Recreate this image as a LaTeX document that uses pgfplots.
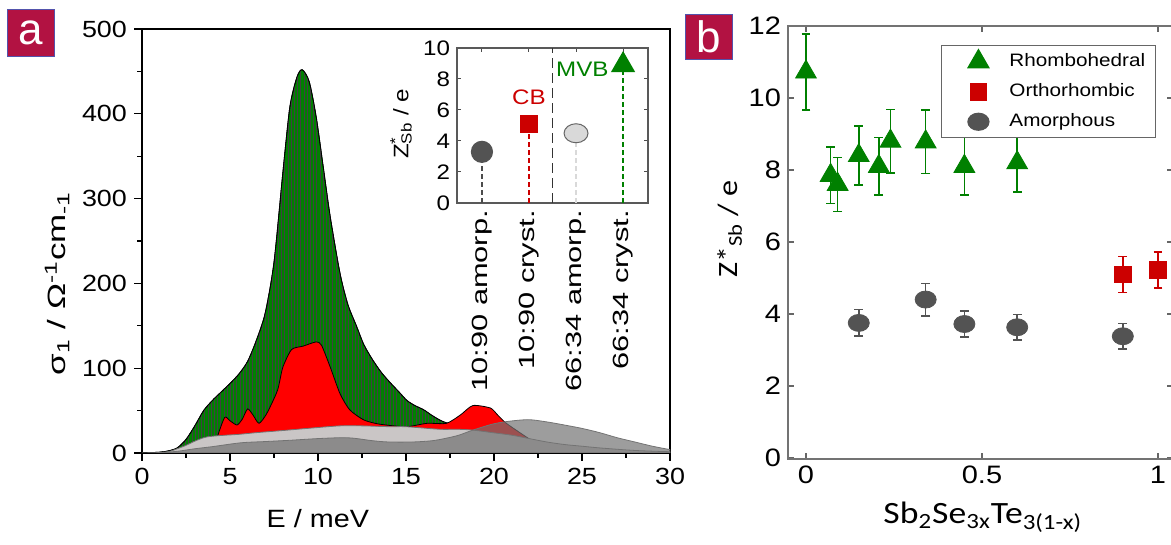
\documentclass[border=0pt]{standalone}
\usepackage{fontspec}
\setmainfont{Liberation Sans}[FakeStretch=1.15]
\newfontfamily\rotfont{Liberation Sans}[FakeStretch=1.4]
\newfontfamily\calibri{Carlito}[FakeStretch=1.15]
\newfontfamily\plainsans{Liberation Sans}
\usepackage{pgfplots}
\pgfplotsset{compat=1.18}
\usetikzlibrary{patterns.meta}
\definecolor{cgreen}{RGB}{0,128,0}
\definecolor{cred}{RGB}{255,0,0}
\definecolor{mred}{RGB}{204,0,0}
\definecolor{lgray}{RGB}{202,198,198}
\definecolor{mgray}{RGB}{83,83,83}
\definecolor{crimson}{RGB}{178,18,66}

\begin{document}
\begin{tikzpicture}
\useasboundingbox (0,0) rectangle (585.5pt,272.5pt);

% ---- panel a: optical conductivity
\begin{axis}[
    at={(71pt,46pt)}, anchor=south west, scale only axis,
    width=264pt, height=212pt,
    xmin=0, xmax=30, ymin=0, ymax=500,
    xtick={0,5,...,30}, ytick={0,100,...,500},
    minor x tick num=1, minor y tick num=1,
    tick pos=left, tick align=outside,
    major tick length=4pt, minor tick length=2.5pt,
    tick style={black, line width=0.6pt},
    axis line style={line width=0.7pt},
    tick label style={font=\fontsize{11.7}{13}\selectfont},
    /pgf/number format/assume math mode=true,
    xlabel={E / meV},
    ylabel={σ\textsubscript{1} / Ω\textsuperscript{-1}cm\textsubscript{-1}},
    xlabel style={font=\fontsize{12.5}{14}\selectfont,
      at={(axis description cs:0.333,-0.155)}, anchor=center},
    ylabel style={font=\rotfont\fontsize{12.5}{14}\selectfont,
      at={(axis description cs:-0.161,0.40)}, anchor=center},
]
\addplot[smooth, tension=0.45, draw=black, line width=0.4pt, fill=cgreen,
  postaction={pattern={Lines[angle=90,distance=1.6pt,line width=0.4pt]}, pattern color=black!75}]
  coordinates {(0,0) (1,1) (1.5,2.5) (2,6) (2.5,16) (3,32) (3.5,50) (4,62) (4.5,72)
   (5,82) (5.5,93) (6,108) (6.5,133) (7,165) (7.5,225) (8,330) (8.4,408) (8.8,443)
   (9.1,452) (9.5,438) (9.9,396) (10.3,337) (10.7,278) (11.25,212) (11.7,175)
   (12.2,149) (12.6,128) (13.1,110) (13.6,95) (14.1,83) (14.6,72) (15.05,62)
   (15.5,56) (16,51) (16.5,44) (17,38) (17.5,34) (18,30) (19,26) (20,22) (21,17)
   (22,12) (23,8) (25,4) (27,2) (30,0)} \closedcycle;
\addplot[smooth, tension=0.4, draw=black, line width=0.4pt, fill=cred]
  coordinates {(4.1,0) (4.3,20) (4.7,42) (5.0,38) (5.4,33) (5.7,40) (6.0,52) (6.3,45)
   (6.65,35) (7.1,47) (7.7,74) (8.0,101) (8.5,122) (9.15,126) (9.9,131) (10.2,127)
   (10.7,101) (11.25,70) (11.8,51) (12.6,39) (13.5,34) (15,31) (16.2,35) (17.3,35)
   (18.1,45) (18.8,56) (19.8,53) (20.2,45) (20.7,35) (21.9,18) (22.5,10) (23.5,3)
   (25,0)} \closedcycle;
\addplot[smooth, tension=0.5, draw=black!55, line width=0.4pt, fill=lgray]
  coordinates {(0.8,0) (1.5,1.5) (2,5) (2.5,9) (2.9,13) (3.3,16.5) (3.7,19) (4.4,20.5)
   (5.5,22) (6.5,24) (8,26.5) (9.4,29) (11.25,32) (12.5,32) (14.1,31) (15,31)
   (16.9,28) (17.9,28) (18.8,27) (19.9,24) (21,21) (22,17) (23,13) (24,10) (25,8)
   (26,6) (28,3) (30,1.5)} \closedcycle;
\addplot[smooth, tension=0.5, draw=black!55, line width=0.4pt, fill=black!55, fill opacity=0.7]
  coordinates {(0,0) (1,0.5) (2,2) (3,5) (4,7.5) (5.6,12) (7,13.5) (8.4,15) (10,17)
   (11.25,18) (12,17.5) (13.1,14.5) (14,13) (15.4,13) (16.5,14.5) (17.3,17.5) (18,21)
   (18.8,27) (19.9,34) (20.7,37) (21.6,39) (22.2,39) (23.2,36) (24,33) (25,29)
   (26,24) (27,18) (28,13) (29,8) (30,4)} \closedcycle;
\end{axis}

% ---- inset
\begin{axis}[
    at={(228.5pt,171pt)}, anchor=south west, scale only axis,
    width=95.5pt, height=77.5pt,
    xmin=0.47, xmax=4.53, ymin=0, ymax=10,
    xtick={1,2,3,4},
    xticklabels={10:90 amorp., 10:90 cryst., 66:34 amorp., 66:34 cryst.},
    ytick={0,2,...,10},
    tick align=inside, major tick length=2pt,
    tick style={black!70, line width=0.5pt},
    axis line style={black!65, line width=0.6pt},
    tick label style={font=\fontsize{10.5}{12}\selectfont},
    x tick label style={rotate=90, anchor=east, font=\rotfont\fontsize{11}{12}\selectfont},
    /pgf/number format/assume math mode=true,
    ylabel={Z\rlap{\textsuperscript{*}}\textsubscript{Sb} / e},
    ylabel style={font=\fontsize{10.5}{12}\selectfont,
      at={(axis description cs:-0.293,0.51)}, anchor=center},
    clip=false,
]
\addplot[black!80, dash pattern=on 5pt off 2.5pt, line width=0.6pt]
  coordinates {(2.5,0) (2.5,10)};
\addplot[ycomb, draw=black!70, dash pattern=on 2.5pt off 1.5pt, line width=0.6pt,
  mark=*, mark size=5.25pt, mark options={solid, fill=mgray, draw=mgray}]
  coordinates {(1,3.3)};
\addplot[ycomb, draw=mred, dash pattern=on 2.5pt off 1.5pt, line width=0.7pt,
  mark=square*, mark size=4.3pt, mark options={solid, fill=mred, draw=mred}]
  coordinates {(2,5.1)};
\addplot[ycomb, draw=black!15, dash pattern=on 2.5pt off 1.5pt, line width=0.6pt,
  mark=*, mark size=4.75pt, mark options={solid, xscale=1.26, fill=black!15, draw=black!60, line width=0.5pt}]
  coordinates {(3,4.5)};
\addplot[ycomb, draw=cgreen, dash pattern=on 2.5pt off 1.5pt, line width=0.7pt,
  mark=triangle*, mark size=6.3pt, mark options={solid, fill=cgreen, draw=cgreen}]
  coordinates {(4,8.9)};
\node[text=mred, font=\fontsize{10.5}{12}\selectfont] at (axis cs:2,6.84) {CB};
\node[text=cgreen, anchor=east, inner sep=0.5pt, font=\fontsize{10.5}{12}\selectfont] at (axis cs:3.72,8.6) {MVB};
\end{axis}

% ---- panel b: Born effective charge
\begin{axis}[
    at={(394pt,43pt)}, anchor=south west, scale only axis,
    width=192.5pt, height=216.5pt,
    xmin=-0.051, xmax=1.0426, ymin=-0.03, ymax=12,
    xtick={0,0.5,1}, xticklabels={0,0.5,1}, ytick={0,2,...,12},
    tick align=inside, major tick length=3pt,
    tick style={black!60, line width=0.6pt},
    axis line style={black!55, line width=0.7pt},
    tick label style={font=\fontsize{12.6}{14}\selectfont},
    /pgf/number format/assume math mode=true,
    xlabel={\calibri Sb\textsubscript{2}Se\textsubscript{3x}Te\textsubscript{3(1-x)}},
    ylabel={\calibri Z*\textsubscript{Sb} / e},
    xlabel style={font=\fontsize{15.5}{17}\selectfont,
      at={(axis description cs:0.506,-0.135)}, anchor=center},
    ylabel style={font=\fontsize{14}{16}\selectfont,
      at={(axis description cs:-0.151,0.531)}, anchor=center},
    legend style={at={(0.397,0.956)}, anchor=north west, draw=black!60,
      line width=0.6pt, inner xsep=3pt, inner ysep=2pt,
      font=\fontsize{9}{10.5}\selectfont, row sep=3pt},
    legend cell align=left,
    legend image code/.code={\path[draw=none] (0pt,0pt) -- (29pt,0pt);
      \path[#1, draw opacity=1] plot[only marks] coordinates {(15.5pt,0pt)};},
]
\addplot[forget plot, only marks, mark=triangle*, mark size=6pt, color=cgreen,
  error bars/.cd, y dir=both, y explicit,
  error bar style={line width=0.8pt, cgreen},
  error mark options={rotate=90, mark size=2.2pt, line width=0.8pt, cgreen}]
  coordinates {(0,10.72) +- (0,1.05) (0.07,7.85) +- (0,0.78) (0.09,7.6) +- (0,0.75)
   (0.15,8.4) +- (0,0.82) (0.207,8.1) +- (0,0.8) (0.24,8.8) +- (0,0.88)
   (0.34,8.78) +- (0,0.88) (0.45,8.1) +- (0,0.8) (0.6,8.2) +- (0,0.82)};
\addplot[forget plot, only marks, mark=square*, mark size=4.1pt, color=mred,
  error bars/.cd, y dir=both, y explicit,
  error bar style={line width=0.8pt, mred},
  error mark options={rotate=90, mark size=2.2pt, line width=0.8pt, mred}]
  coordinates {(0.9,5.1) +- (0,0.5) (1.0,5.22) +- (0,0.5)};
\addplot[forget plot, only marks, mark=*, mark size=4.25pt, color=mgray,
  mark options={xscale=1.24},
  error bars/.cd, y dir=both, y explicit,
  error bar style={line width=0.8pt, mgray},
  error mark options={rotate=90, mark size=2.2pt, line width=0.8pt, mgray}]
  coordinates {(0.15,3.75) +- (0,0.37) (0.34,4.4) +- (0,0.45) (0.45,3.72) +- (0,0.36)
   (0.6,3.63) +- (0,0.36) (0.9,3.38) +- (0,0.35)};
\addlegendimage{only marks, mark=triangle*, mark size=6pt, color=cgreen}
\addlegendentry{Rhombohedral}
\addlegendimage{only marks, mark=square*, mark size=4.1pt, color=mred}
\addlegendentry{Orthorhombic}
\addlegendimage{only marks, mark=*, mark size=4.25pt, color=mgray, mark options={xscale=1.24}}
\addlegendentry{Amorphous}
\end{axis}

% panel tags
\node[fill=crimson, draw=blue!35!gray, line width=0.5pt, minimum width=23.5pt, minimum height=23.5pt,
  inner sep=0pt, text=white, font=\plainsans\fontsize{22}{22}\selectfont, anchor=north west]
  at (3.5pt,268pt) {a};
\node[fill=crimson, draw=blue!35!gray, line width=0.5pt, minimum width=23.5pt, minimum height=22.5pt,
  inner sep=0pt, text=white, font=\plainsans\fontsize{22}{22}\selectfont, anchor=north west]
  at (342.5pt,265.5pt) {b};
\end{tikzpicture}
\end{document}
